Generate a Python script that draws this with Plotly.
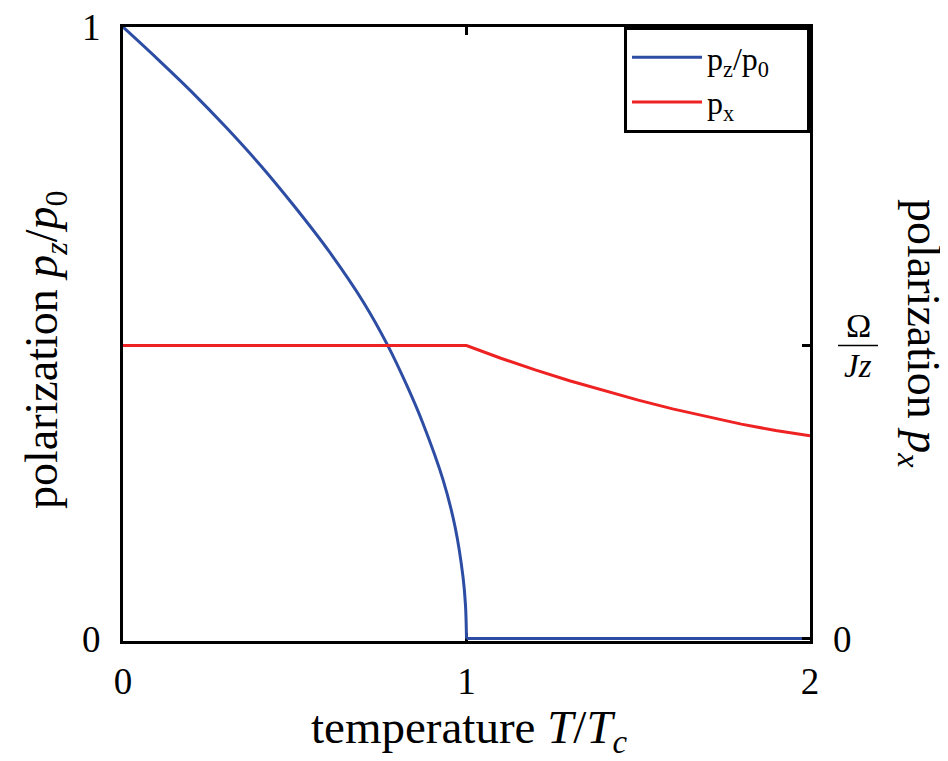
import plotly.graph_objects as go

# blue: p_z / p_0 versus T/Tc (ordered phase, then zero above Tc)
T_pz = [0.0, 0.1, 0.2, 0.3, 0.4, 0.5, 0.6, 0.7, 0.771, 0.827, 0.873,
        0.932, 0.967, 0.990, 0.997, 1.0]
pz = [1.0, 0.948, 0.894, 0.836, 0.774, 0.706, 0.633, 0.550, 0.479, 0.413, 0.352,
      0.259, 0.182, 0.100, 0.055, 0.0]
T_pz_high = [1.0, 2.0]
pz_high = [0.0, 0.0]

# red: p_x in units of Omega/(J z)
T_px = [0.0, 0.5, 1.0, 1.1, 1.2, 1.3, 1.4, 1.5, 1.6, 1.7, 1.8, 1.9, 2.0]
px = [1.0, 1.0, 1.0, 0.957, 0.917, 0.880, 0.846, 0.814, 0.784, 0.757, 0.732, 0.710, 0.692]

x_ticks = [0, 1, 2]
x_ticktext = ["0", "1", "2"]
y_ticks = [0, 1]
y_ticktext = ["0", "1"]
omega_ratio = 0.479  # position of Omega/(Jz) on the left scale

FONT = "Liberation Serif"
BLUE = "#2c4da3"
RED = "#ee2222"
NB = "\u00a0"

fig = go.Figure()
fig.add_trace(go.Scatter(x=T_pz, y=pz, mode="lines",
                         name="p<sub>z</sub>/p<sub>0</sub>" + NB * 4,
                         legendgroup="pz",
                         line=dict(color=BLUE, width=3, shape="spline", smoothing=1.0)))
fig.add_trace(go.Scatter(x=T_pz_high, y=pz_high, mode="lines", showlegend=False,
                         legendgroup="pz", line=dict(color=BLUE, width=3)))
fig.add_trace(go.Scatter(x=T_px, y=px, mode="lines", name="p<sub>x</sub>", yaxis="y2",
                         line=dict(color=RED, width=3)))

ylo = -0.004
W, H = 940, 753
fig.update_layout(
    width=W, height=H,
    margin=dict(l=115, r=138, t=19, b=120),
    paper_bgcolor="white", plot_bgcolor="white",
    font=dict(family=FONT, color="black", size=36),
    showlegend=True,
    legend=dict(x=1, xanchor="right", y=1, yanchor="top",
                bordercolor="black", borderwidth=3, bgcolor="white",
                font=dict(size=32, family=FONT), itemwidth=70,
                tracegroupgap=0),
    xaxis=dict(range=[0, 2], tickvals=x_ticks, ticktext=x_ticktext, automargin=False,
               showline=True, linecolor="black", linewidth=3, mirror="ticks",
               ticks="inside", ticklen=8, tickwidth=3, tickcolor="black",
               showgrid=False, zeroline=False, layer="below traces",
               ticklabeloverflow="allow",
               tickfont=dict(size=37), ticklabelstandoff=6),
    yaxis=dict(range=[ylo, 1], tickvals=y_ticks, ticktext=y_ticktext, automargin=False,
               showline=True, linecolor="black", linewidth=3, mirror=True,
               ticks="", showgrid=False, zeroline=False, layer="below traces",
               ticklabeloverflow="allow",
               tickfont=dict(size=37), ticklabelstandoff=12),
    yaxis2=dict(range=[ylo / omega_ratio, 1 / omega_ratio], overlaying="y", side="right",
                tickvals=[0, 1], ticktext=["0", ""], automargin=False,
                showline=False, ticks="inside", ticklen=8, tickwidth=3, tickcolor="black",
                showgrid=False, zeroline=False, ticklabeloverflow="allow",
                tickfont=dict(size=37), ticklabelstandoff=22),
)

# axis titles
fig.add_annotation(xref="paper", yref="paper", x=0.505, y=-0.146,
                   xanchor="center", yanchor="middle",
                   text="temperature <i>T</i>/<i>T</i><sub><i>c</i></sub>",
                   showarrow=False, font=dict(size=47, family=FONT))
fig.add_annotation(xref="paper", yref="paper", x=-0.1135, y=0.474, textangle=-90,
                   xanchor="center", yanchor="middle",
                   text="polarization <i>p<sub>z</sub></i>/<i>p</i><sub>0</sub>",
                   showarrow=False, font=dict(size=46, family=FONT))
fig.add_annotation(xref="paper", yref="paper", x=1.160, y=0.50, textangle=90,
                   xanchor="center", yanchor="middle",
                   text="polarization <i>p<sub>x</sub></i>",
                   showarrow=False, font=dict(size=46, family=FONT))

# fraction label Omega / (J z) at the right-hand tick
fig.add_annotation(xref="paper", yref="y2", x=1.070, y=1, yshift=20, text="Ω",
                   xanchor="center", yanchor="middle",
                   showarrow=False, font=dict(size=34, family=FONT))
fig.add_annotation(xref="paper", yref="y2", x=1.070, y=1, yshift=-20, text="<i>Jz</i>",
                   xanchor="center", yanchor="middle",
                   showarrow=False, font=dict(size=33, family=FONT))
fig.add_shape(type="line", xref="paper", yref="y2", x0=1.0408, x1=1.099, y0=1, y1=1,
              line=dict(color="black", width=1.5))

fig.write_html("out.html")
